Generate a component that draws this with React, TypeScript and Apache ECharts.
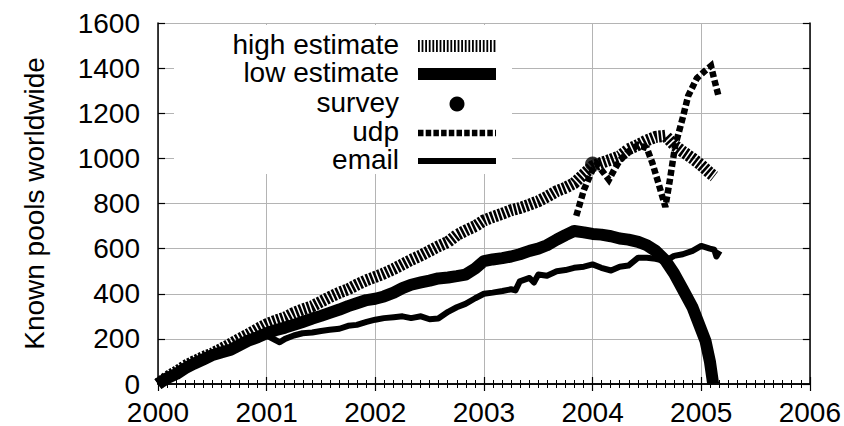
import React, { useEffect, useRef } from "react";
import * as echarts from "echarts";

const FONT = "'Liberation Sans', Arial, Helvetica, sans-serif";

const yAxisTitle = "Known pools worldwide";
const legendNames = ["high estimate", "low estimate", "survey", "udp", "email"];

const highYears = [
  2000.0, 2000.08, 2000.17, 2000.25, 2000.33, 2000.42, 2000.5, 2000.58, 2000.67, 2000.75, 2000.83, 2000.92,
  2001.0, 2001.08, 2001.17, 2001.25, 2001.33, 2001.42, 2001.5, 2001.58, 2001.67, 2001.75, 2001.83, 2001.92,
  2002.0, 2002.08, 2002.17, 2002.25, 2002.33, 2002.42, 2002.5, 2002.58, 2002.67, 2002.75, 2002.83, 2002.92,
  2003.0, 2003.08, 2003.17, 2003.25, 2003.33, 2003.42, 2003.5, 2003.58, 2003.67, 2003.75, 2003.83, 2003.92,
  2004.0, 2004.08, 2004.17, 2004.25, 2004.33, 2004.42, 2004.5, 2004.58, 2004.67, 2004.75, 2004.83, 2004.92,
  2005.0, 2005.08, 2005.12,
];
const highValues = [
  0, 30, 55, 80, 100, 120, 135, 155, 178, 200, 220, 245,
  265, 280, 295, 315, 330, 345, 365, 385, 405, 420, 440, 460,
  475, 490, 510, 530, 550, 570, 590, 610, 630, 660, 680, 700,
  725, 740, 755, 770, 780, 795, 810, 830, 855, 870, 890, 930,
  965, 980, 995, 1010, 1040, 1060, 1080, 1095, 1100, 1060, 1030, 1000,
  970, 935, 920,
];

const lowYears = [
  2000.0, 2000.08, 2000.17, 2000.25, 2000.33, 2000.42, 2000.5, 2000.58, 2000.67, 2000.75, 2000.83, 2000.92,
  2001.0, 2001.08, 2001.17, 2001.25, 2001.33, 2001.42, 2001.5, 2001.58, 2001.67, 2001.75, 2001.83, 2001.92,
  2002.0, 2002.08, 2002.17, 2002.25, 2002.33, 2002.42, 2002.5, 2002.58, 2002.67, 2002.75, 2002.83, 2002.92,
  2003.0, 2003.08, 2003.17, 2003.25, 2003.33, 2003.42, 2003.5, 2003.58, 2003.67, 2003.75, 2003.83, 2003.92,
  2004.0, 2004.08, 2004.17, 2004.25, 2004.33, 2004.42, 2004.5, 2004.58, 2004.67, 2004.75, 2004.83, 2004.92,
  2005.0, 2005.04, 2005.08, 2005.11,
];
const lowValues = [
  0, 25, 45, 70, 90, 110, 128, 140, 152, 172, 192, 208,
  225, 238, 250, 262, 275, 290, 302, 315, 330, 345, 358, 372,
  378, 388, 405, 425, 440, 450, 458, 468, 472, 478, 485, 512,
  545, 552, 558, 565, 575, 590, 600, 615, 640, 660, 678, 672,
  665, 662, 655, 645, 640, 630, 615, 590, 548, 490, 420, 340,
  240, 190, 100, 0,
];

const surveyYears = [2004.0];
const surveyValues = [975];

const udpYears = [
  2003.85, 2003.92, 2004.0, 2004.04, 2004.08, 2004.15, 2004.2, 2004.25, 2004.33, 2004.42, 2004.5, 2004.55,
  2004.6, 2004.67, 2004.71, 2004.76, 2004.83, 2004.88, 2004.96, 2005.04, 2005.09, 2005.12, 2005.16,
];
const udpValues = [
  745, 860, 950, 975, 950, 905, 950, 990, 1030, 1060, 1045, 980,
  900, 785, 900, 1055, 1180, 1277, 1355, 1390, 1410, 1350, 1275,
];

const emailYears = [
  2000.0, 2000.08, 2000.17, 2000.25, 2000.33, 2000.42, 2000.5, 2000.58, 2000.67, 2000.75, 2000.83, 2000.92,
  2001.0, 2001.08, 2001.12, 2001.17, 2001.25, 2001.33, 2001.42, 2001.5, 2001.58, 2001.67, 2001.75, 2001.83, 2001.92,
  2002.0, 2002.08, 2002.17, 2002.25, 2002.33, 2002.42, 2002.5, 2002.58, 2002.67, 2002.75, 2002.83, 2002.92,
  2003.0, 2003.08, 2003.17, 2003.25, 2003.29, 2003.33, 2003.42, 2003.46, 2003.5, 2003.58, 2003.67, 2003.75, 2003.83, 2003.92,
  2004.0, 2004.08, 2004.17, 2004.25, 2004.33, 2004.42, 2004.5, 2004.58, 2004.67, 2004.75, 2004.83, 2004.92,
  2005.0, 2005.08, 2005.12, 2005.14, 2005.17,
];
const emailValues = [
  0, 25, 45, 70, 90, 108, 125, 140, 155, 175, 195, 210,
  215, 195, 185, 200, 215, 225, 228, 235, 240, 245, 258, 262, 275,
  285, 292, 296, 300, 292, 300, 287, 290, 320, 340, 355, 380,
  400, 405, 412, 420, 415, 455, 470, 450, 485, 480, 500, 505, 515, 520,
  530, 515, 503, 520, 525, 560, 560, 555, 545, 568, 575, 590,
  612, 600, 595, 565, 590,
];

const xMin = 2000;
const xMax = 2006;
const yMin = 0;
const yMax = 1600;

function zip(xs: number[], ys: number[]) {
  return xs.map((x, i) => [x, ys[i]]);
}

export default function App() {
  const ref = useRef<HTMLDivElement>(null);
  useEffect(() => {
    const chart = echarts.init(ref.current!, null, { renderer: "svg" });
    const gridLeft = 158;
    const gridTop = 23;
    const axisCommon = {
      type: "value" as const,
      axisLine: { show: true, lineStyle: { color: "#000", width: 1.5 } },
    };
    const legendRowsY = [46, 74, 104, 133, 161];
    const textX = 399;
    const sx0 = 418;
    const sx1 = 496;
    const legendGraphics: any[] = [
      { type: "rect", z: 1, shape: { x: 174, y: 25, width: 338, height: 149 }, style: { fill: "#fff" } },
    ];
    legendNames.forEach((n, i) => {
      legendGraphics.push({
        type: "text",
        z: 3,
        x: textX,
        y: legendRowsY[i] - 2,
        style: { text: n, font: `28px ${FONT}`, fill: "#000", align: "right", verticalAlign: "middle" },
      });
    });
    legendGraphics.push(
      { type: "line", z: 3, shape: { x1: sx0, y1: legendRowsY[0], x2: sx1, y2: legendRowsY[0] }, style: { stroke: "#000", lineWidth: 12, lineDash: [1.8, 1.8] } },
      { type: "line", z: 3, shape: { x1: sx0, y1: legendRowsY[1], x2: sx1, y2: legendRowsY[1] }, style: { stroke: "#000", lineWidth: 12 } },
      { type: "circle", z: 3, shape: { cx: (sx0 + sx1) / 2, cy: legendRowsY[2], r: 7.5 }, style: { fill: "#000" } },
      { type: "line", z: 3, shape: { x1: sx0, y1: legendRowsY[3], x2: sx1, y2: legendRowsY[3] }, style: { stroke: "#000", lineWidth: 6.5, lineDash: [5.5, 2.2] } },
      { type: "line", z: 3, shape: { x1: sx0, y1: legendRowsY[4], x2: sx1, y2: legendRowsY[4] }, style: { stroke: "#000", lineWidth: 6 } }
    );

    const gridLineStyle = { color: "#b4b4b4", width: 1, type: "solid" };

    const option: any = {
      animation: false,
      backgroundColor: "#fff",
      textStyle: { fontFamily: FONT },
      grid: { left: gridLeft, top: gridTop, right: 32, bottom: 40 },
      xAxis: [
        {
          ...axisCommon,
          position: "bottom",
          min: xMin,
          max: xMax,
          interval: 1,
          axisTick: { show: true, inside: true, length: 7, lineStyle: { color: "#000", width: 1.2 } },
          minorTick: { show: true, splitNumber: 12, length: 4, lineStyle: { color: "#000", width: 1 } },
          axisLabel: { show: true, color: "#000", fontSize: 28, fontFamily: FONT, margin: 14, formatter: (v: number) => String(v) },
          splitLine: { show: true, lineStyle: { ...gridLineStyle } },
        },
        {
          ...axisCommon,
          position: "top",
          min: xMin,
          max: xMax,
          interval: 1,
          axisTick: { show: true, inside: true, length: 7, lineStyle: { color: "#000", width: 1.2 } },
          minorTick: { show: true, splitNumber: 12, length: 4, lineStyle: { color: "#000", width: 1 } },
          axisLabel: { show: false },
          splitLine: { show: false },
        },
      ],
      yAxis: [
        {
          ...axisCommon,
          position: "left",
          min: yMin,
          max: yMax,
          interval: 200,
          name: yAxisTitle,
          nameLocation: "middle",
          nameGap: 110,
          nameTextStyle: { color: "#000", fontSize: 28, fontFamily: FONT },
          axisTick: { show: true, inside: true, length: 7, lineStyle: { color: "#000", width: 1.2 } },
          axisLabel: { show: true, color: "#000", fontSize: 28, fontFamily: FONT, margin: 18, formatter: (v: number) => String(v) },
          splitLine: { show: true, lineStyle: { ...gridLineStyle } },
        },
        {
          ...axisCommon,
          position: "right",
          min: yMin,
          max: yMax,
          interval: 200,
          axisTick: { show: true, inside: true, length: 7, lineStyle: { color: "#000", width: 1.2 } },
          axisLabel: { show: false },
          splitLine: { show: false },
        },
      ],
      graphic: legendGraphics,
      series: [
        {
          name: legendNames[0],
          type: "line",
          data: zip(highYears, highValues),
          showSymbol: false,
          symbol: "none",
          lineStyle: { color: "#000", width: 12, type: [2.6, 1.5], cap: "butt", join: "miter" },
          z: 2,
        },
        {
          name: legendNames[1],
          type: "line",
          data: zip(lowYears, lowValues),
          showSymbol: false,
          symbol: "none",
          lineStyle: { color: "#000", width: 12, cap: "butt", join: "round" },
          z: 3,
        },
        {
          name: legendNames[2],
          type: "scatter",
          data: zip(surveyYears, surveyValues),
          symbol: "circle",
          symbolSize: 15,
          itemStyle: { color: "#000" },
          z: 4,
        },
        {
          name: legendNames[3],
          type: "line",
          data: zip(udpYears, udpValues),
          showSymbol: false,
          symbol: "none",
          lineStyle: { color: "#000", width: 6.5, type: [6, 3], cap: "butt", join: "miter" },
          z: 5,
        },
        {
          name: legendNames[4],
          type: "line",
          data: zip(emailYears, emailValues),
          showSymbol: false,
          symbol: "none",
          lineStyle: { color: "#000", width: 6, cap: "butt", join: "round" },
          z: 6,
        },
      ],
    };
    chart.setOption(option);
    return () => chart.dispose();
  }, []);
  return (
    <div
      ref={ref}
      style={{ position: "fixed", left: 0, top: 0, width: 844, height: 426, background: "#fff" }}
    />
  );
}
